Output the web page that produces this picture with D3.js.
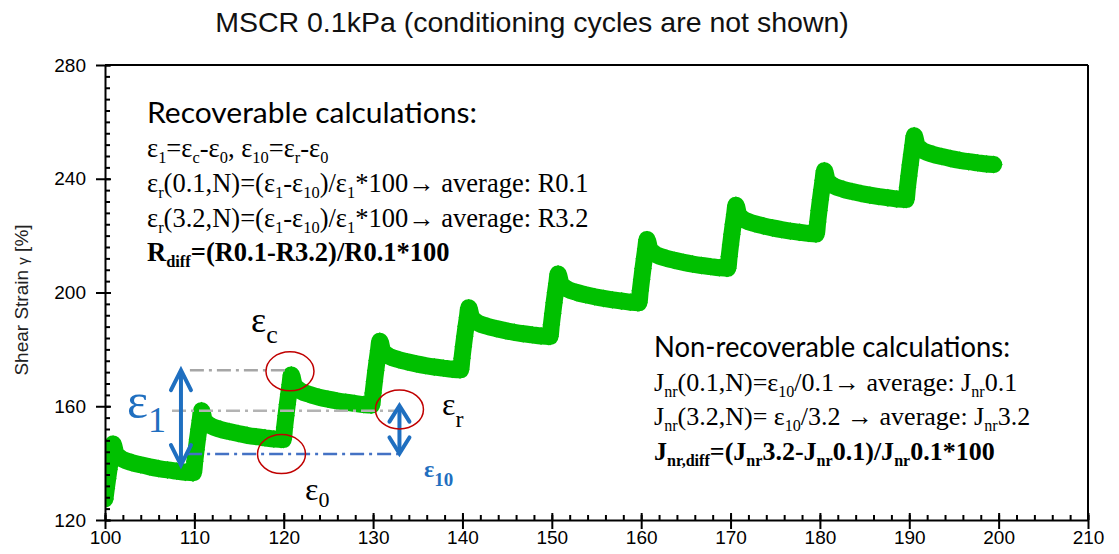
<!DOCTYPE html>
<html>
<head>
<meta charset="utf-8">
<script src="https://cdn.jsdelivr.net/npm/d3@7"></script>
<style>
  body { margin: 0; background: #fff; }
  svg { display: block; }
</style>
</head>
<body>
<svg id="chart" width="1119" height="554"></svg>
<script>
// ---- Data -------------------------------------------------------------
// Start time (s) of each 0.1 kPa creep/recovery cycle
const cycleStart = [100.0, 109.9, 119.95, 129.85, 139.8, 149.8, 159.75, 169.7, 179.6, 189.65];
// Sampling times within a cycle (s): 1 s creep, then recovery
const sampleOffset = [0, 0.15, 0.3, 0.45, 0.6, 0.75, 0.9, 1.2, 1.6, 2, 3, 4, 5, 6, 7, 8, 9, 9.8];
// Shear strain (%) at those sampling times, one list per cycle
const strainCycle1  = [127.4, 131.1, 134.5, 137.8, 140.9, 143.8, 146.7, 143.5, 142.1, 141.3, 140.2, 139.4, 138.7, 138.1, 137.6, 137.2, 136.8, 136.6];
const strainCycle2  = [136.6, 140.7, 144.7, 148.4, 151.9, 155.1, 158.4, 155.2, 153.8, 153.0, 151.9, 151.1, 150.4, 149.8, 149.3, 148.9, 148.5, 148.3];
const strainCycle3  = [148.3, 152.6, 156.7, 160.6, 164.2, 167.6, 171.0, 167.7, 166.2, 165.3, 164.1, 163.2, 162.5, 161.9, 161.4, 161.0, 160.6, 160.4];
const strainCycle4  = [160.4, 164.7, 168.7, 172.6, 176.1, 179.5, 182.9, 179.7, 178.3, 177.5, 176.4, 175.6, 174.9, 174.3, 173.8, 173.4, 173.0, 172.8];
const strainCycle5  = [172.8, 176.9, 180.9, 184.6, 188.1, 191.3, 194.6, 191.4, 190.0, 189.2, 188.1, 187.3, 186.6, 186.0, 185.5, 185.1, 184.7, 184.5];
const strainCycle6  = [184.5, 188.7, 192.6, 196.4, 199.9, 203.2, 206.5, 203.3, 201.9, 201.1, 200.0, 199.2, 198.5, 197.9, 197.4, 197.0, 196.6, 196.4];
const strainCycle7  = [196.4, 200.6, 204.6, 208.4, 211.9, 215.3, 218.6, 215.4, 214.0, 213.2, 212.1, 211.3, 210.6, 210.0, 209.5, 209.1, 208.7, 208.5];
const strainCycle8  = [208.5, 212.7, 216.7, 220.5, 224.0, 227.4, 230.7, 227.5, 226.1, 225.3, 224.2, 223.4, 222.7, 222.1, 221.6, 221.2, 220.8, 220.6];
const strainCycle9  = [220.6, 224.8, 228.8, 232.6, 236.1, 239.5, 242.8, 239.6, 238.2, 237.4, 236.3, 235.5, 234.8, 234.2, 233.7, 233.3, 232.9, 232.7];
const strainCycle10 = [232.7, 237.0, 241.0, 244.8, 248.4, 251.8, 255.1, 251.9, 250.5, 249.7, 248.6, 247.8, 247.1, 246.5, 246.0, 245.6, 245.2, 245.0];
const strainCycles = [strainCycle1, strainCycle2, strainCycle3, strainCycle4, strainCycle5,
                      strainCycle6, strainCycle7, strainCycle8, strainCycle9, strainCycle10];

// Axis ticks
const xMajorTicks = [100, 110, 120, 130, 140, 150, 160, 170, 180, 190, 200, 210];
const yMajorTicks = [120, 160, 200, 240, 280];
const xDomain = [100, 210];
const yDomain = [120, 280];

// Annotation geometry in data units (time s, strain %)
const eps1Arrow   = { t: 108.5, from: 172.7, to: 139.3 };
const eps10Arrow  = { t: 132.95, from: 160.2, to: 143.4 };
const guideC      = { t0: 109.5, t1: 120.7, v: 172.7 };   // ε_c level
const guideR      = { t0: 107.5, t1: 132.6, v: 158.4 };   // ε_r level
const guide0      = { t0: 109.3, t1: 133.2, v: 143.2 };   // ε_0 level
const circleC     = { t: 120.7, v: 172.3 };
const circle0     = { t: 119.75, v: 143.2 };
const circleR     = { t: 132.95, v: 158.9 };

// ---- Layout -----------------------------------------------------------
const svg = d3.select("#chart");
const plot = { left: 105, right: 1088, top: 65, bottom: 520 };

const x = d3.scaleLinear().domain(xDomain).range([plot.left, plot.right]);
const y = d3.scaleLinear().domain(yDomain).range([plot.bottom, plot.top]);

// Title
svg.append("text")
  .attr("x", 532).attr("y", 32)
  .attr("text-anchor", "middle")
  .attr("font-family", "Liberation Sans, Arial, sans-serif")
  .attr("font-size", 28.5)
  .attr("fill", "#111")
  .text("MSCR 0.1kPa (conditioning cycles are not shown)");

// Y axis title
const yTitle = svg.append("text")
  .attr("transform", "translate(28,300) rotate(-90)")
  .attr("text-anchor", "middle")
  .attr("font-family", "Liberation Sans, Arial, sans-serif")
  .attr("font-size", 19)
  .attr("fill", "#222");
yTitle.append("tspan").text("Shear Strain ");
yTitle.append("tspan").attr("font-size", 15).text("γ");
yTitle.append("tspan").text(" [%]");

// ---- Curve --------------------------------------------------------------
const points = [];
cycleStart.forEach((t0, i) => {
  sampleOffset.forEach((dt, j) => points.push({ t: t0 + dt, v: strainCycles[i][j] }));
});

svg.append("defs").append("clipPath").attr("id", "plotClip")
  .append("rect")
  .attr("x", plot.left).attr("y", plot.top)
  .attr("width", plot.right - plot.left).attr("height", plot.bottom - plot.top);

const green = "#00c000";
const curveG = svg.append("g").attr("clip-path", "url(#plotClip)");

curveG.append("path")
  .datum(points)
  .attr("fill", "none")
  .attr("stroke", green)
  .attr("stroke-width", 17)
  .attr("stroke-linejoin", "round")
  .attr("stroke-linecap", "round")
  .attr("d", d3.line().x(d => x(d.t)).y(d => y(d.v)).curve(d3.curveMonotoneX));

const diamond = d3.symbol().type(d3.symbolSquare).size(160);
curveG.selectAll("path.marker")
  .data(points)
  .join("path")
  .attr("class", "marker")
  .attr("fill", green)
  .attr("transform", d => `translate(${x(d.t)},${y(d.v)}) rotate(45)`)
  .attr("d", diamond);

// ---- Axes ---------------------------------------------------------------
const axisStyle = g => {
  g.selectAll("path.domain").attr("stroke", "#000").attr("stroke-width", 2);
  g.selectAll(".tick line").attr("stroke", "#000").attr("stroke-width", 2);
  g.selectAll(".tick text")
    .attr("font-family", "Liberation Sans, Arial, sans-serif")
    .attr("font-size", 19)
    .attr("fill", "#000");
};

const xMinor = d3.range(xDomain[0], xDomain[1] + 0.001, 2);
const yMinor = d3.range(yDomain[0], yDomain[1] + 0.001, 4);

// minor ticks (inside)
svg.append("g").attr("transform", `translate(0,${plot.bottom})`)
  .call(d3.axisBottom(x).tickValues(xMinor).tickSize(-5).tickFormat(""))
  .call(g => g.select(".domain").remove())
  .call(axisStyle);
svg.append("g").attr("transform", `translate(${plot.left},0)`)
  .call(d3.axisLeft(y).tickValues(yMinor).tickSize(-5).tickFormat(""))
  .call(g => g.select(".domain").remove())
  .call(axisStyle);

// inner halves of major ticks
svg.append("g").attr("transform", `translate(0,${plot.bottom})`)
  .call(d3.axisBottom(x).tickValues(xMajorTicks).tickSize(-7).tickFormat(""))
  .call(g => g.select(".domain").remove())
  .call(axisStyle);
svg.append("g").attr("transform", `translate(${plot.left},0)`)
  .call(d3.axisLeft(y).tickValues(yMajorTicks).tickSize(-6).tickFormat(""))
  .call(g => g.select(".domain").remove())
  .call(axisStyle);

// labelled axes
svg.append("g").attr("transform", `translate(0,${plot.bottom})`)
  .call(d3.axisBottom(x).tickValues(xMajorTicks).tickSize(9).tickSizeOuter(0).tickPadding(2).tickFormat(d3.format("d")))
  .call(axisStyle);
svg.append("g").attr("transform", `translate(${plot.left},0)`)
  .call(d3.axisLeft(y).tickValues(yMajorTicks).tickSize(9).tickSizeOuter(0).tickPadding(10).tickFormat(d3.format("d")))
  .call(axisStyle);

// frame: top and right edges
svg.append("line")
  .attr("x1", plot.left).attr("x2", plot.right)
  .attr("y1", y(yDomain[1])).attr("y2", y(yDomain[1]))
  .attr("stroke", "#000").attr("stroke-width", 2);
svg.append("line")
  .attr("x1", x(xDomain[1])).attr("x2", x(xDomain[1]))
  .attr("y1", plot.top).attr("y2", plot.bottom)
  .attr("stroke", "#000").attr("stroke-width", 2);

// ---- Annotations ---------------------------------------------------------
const ann = svg.append("g");

function guideLine(g, color, width) {
  ann.append("line")
    .attr("x1", x(g.t0)).attr("x2", x(g.t1))
    .attr("y1", y(g.v)).attr("y2", y(g.v))
    .attr("stroke", color).attr("stroke-width", width)
    .attr("stroke-dasharray", "14 5 3 5");
}
guideLine(guideC, "#a6a6a6", 2.5);
guideLine(guideR, "#b3b3b3", 2.5);
guideLine(guide0, "#4472c4", 2.5);

const arrowBlue = "#1f6fc0";
function doubleArrow(a, armDx, armDy) {
  const xa = x(a.t), y1 = y(a.from), y2 = y(a.to);
  ann.append("line")
    .attr("x1", xa).attr("x2", xa).attr("y1", y1 + 2).attr("y2", y2 - 2)
    .attr("stroke", arrowBlue).attr("stroke-width", 4);
  const heads = [
    [[xa - armDx, y1 + armDy], [xa, y1], [xa + armDx, y1 + armDy]],
    [[xa - armDx, y2 - armDy], [xa, y2], [xa + armDx, y2 - armDy]]
  ];
  heads.forEach(h => ann.append("path")
    .attr("d", d3.line()(h))
    .attr("fill", "none").attr("stroke", arrowBlue)
    .attr("stroke-width", 4).attr("stroke-linejoin", "miter").attr("stroke-linecap", "round"));
}
doubleArrow(eps1Arrow, 10, 20);
doubleArrow(eps10Arrow, 10, 16);

function ring(c) {
  ann.append("ellipse")
    .attr("cx", x(c.t)).attr("cy", y(c.v))
    .attr("rx", 24).attr("ry", 19.5)
    .attr("fill", "none").attr("stroke", "#c00000").attr("stroke-width", 1.5);
}
ring(circleC); ring(circle0); ring(circleR);

// ---- Rich text helper (subscripts) ----------------------------------------
function richText(parent, xPos, yPos, parts, opts) {
  const txt = parent.append("text")
    .attr("x", xPos).attr("y", yPos)
    .attr("font-family", opts.family)
    .attr("font-size", opts.size)
    .attr("font-weight", opts.weight || "normal")
    .attr("fill", opts.color || "#000");
  if (opts.width) txt.attr("textLength", opts.width).attr("lengthAdjust", "spacingAndGlyphs");
  const subSize = opts.subSize || opts.size * 0.62;
  const shift = opts.subShift || opts.size * 0.24;
  let lowered = false;
  parts.forEach(p => {
    const isSub = Array.isArray(p);
    const s = isSub ? p[0] : p;
    const ts = txt.append("tspan").text(s);
    if (isSub) {
      ts.attr("font-size", subSize);
      if (!lowered) { ts.attr("dy", shift); lowered = true; }
    } else if (lowered) {
      ts.attr("dy", -shift); lowered = false;
    }
  });
  return txt;
}

const serif = "Liberation Serif, Times New Roman, serif";
const sans = "Lato, Carlito, Calibri, sans-serif";
const bodySize = 26.5;
const jSize = 26;

// Recoverable block
richText(svg, 147, 123, ["Recoverable calculations:"], { family: sans, size: 29, width: 330 });
richText(svg, 147, 157, ["ε", ["1"], "=ε", ["c"], "-ε", ["0"], ", ε", ["10"], "=ε", ["r"], "-ε", ["0"]],
  { family: serif, size: bodySize });
richText(svg, 147, 192, ["ε", ["r"], "(0.1,N)=(ε", ["1"], "-ε", ["10"], ")/ε", ["1"], "*100→ average: R0.1"],
  { family: serif, size: bodySize });
richText(svg, 147, 227, ["ε", ["r"], "(3.2,N)=(ε", ["1"], "-ε", ["10"], ")/ε", ["1"], "*100→ average: R3.2"],
  { family: serif, size: bodySize });
richText(svg, 147, 261, ["R", ["diff"], "=(R0.1-R3.2)/R0.1*100"],
  { family: serif, size: bodySize, weight: "bold" });

// Non-recoverable block
richText(svg, 654, 357, ["Non-recoverable calculations:"], { family: sans, size: 29, width: 356 });
richText(svg, 654, 391, ["J", ["nr"], "(0.1,N)=ε", ["10"], "/0.1→ average: J", ["nr"], "0.1"],
  { family: serif, size: jSize });
richText(svg, 654, 425, ["J", ["nr"], "(3.2,N)= ε", ["10"], "/3.2 → average: J", ["nr"], "3.2"],
  { family: serif, size: jSize });
richText(svg, 654, 460, ["J", ["nr,diff"], "=(J", ["nr"], "3.2-J", ["nr"], "0.1)/J", ["nr"], "0.1*100"],
  { family: serif, size: jSize, weight: "bold" });

// Symbol labels on the curve
richText(svg, 127, 418, ["ε", ["1"]], { family: serif, size: 50, subSize: 36, subShift: 14, color: arrowBlue });
richText(svg, 251, 332, ["ε", ["c"]], { family: serif, size: 36, subSize: 26, subShift: 11 });
richText(svg, 442, 415, ["ε", ["r"]], { family: serif, size: 32, subSize: 24, subShift: 12 });
richText(svg, 305, 500, ["ε", ["0"]], { family: serif, size: 32, subSize: 22, subShift: 7 });
richText(svg, 424, 477, ["ε", ["10"]], { family: serif, size: 24, weight: "bold", subSize: 19, subShift: 9, color: arrowBlue });
</script>
</body>
</html>
